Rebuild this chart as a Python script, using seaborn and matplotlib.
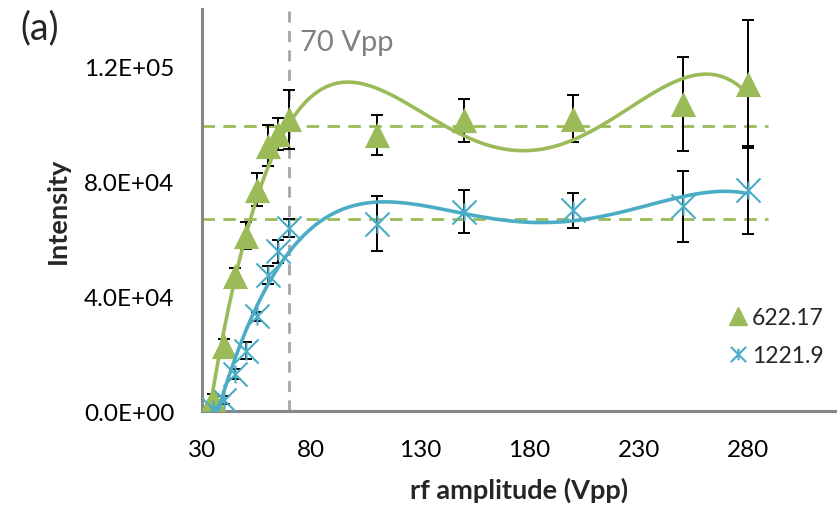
import numpy as np
import matplotlib
matplotlib.use("Agg")
import matplotlib.pyplot as plt
import seaborn as sns
from matplotlib.lines import Line2D
from matplotlib.path import Path
from matplotlib.ticker import FuncFormatter

# данные
rf_vpp = [35, 40, 45, 50, 55, 60, 65, 70, 110, 150, 200, 250, 280]
int_622 = [4200, 22700, 47000, 61100, 77100, 92500, 96500, 101600,
           96200, 101300, 101900, 107000, 114000]
err_622 = [1700, 2300, 3000, 4800, 5700, 7000, 5500, 10200,
           7100, 7500, 8100, 16400, 22300]
int_1221 = [700, 3800, 12900, 21000, 33000, 47300, 55700, 63800,
            65300, 69400, 69900, 71400, 77000]
err_1221 = [500, 1500, 1700, 3000, 1500, 3200, 4000, 3000,
            9600, 7500, 6000, 12400, 15200]
labels = ["622.17", "1221.9"]
plateau_levels = [99200, 67000]
plateau_end = 289
marker_line = 70

green = "#9BBB59"
blue = "#4BACC6"
grey_axis = "#868686"

# маркер "звёздочка" как в Excel: крест + вертикальная черта
star = Path([(-1, -1), (1, 1), (-1, 1), (1, -1), (0, -0.75), (0, 0.75)],
            [Path.MOVETO, Path.LINETO, Path.MOVETO, Path.LINETO, Path.MOVETO, Path.LINETO])

sns.set_style("white")
plt.rcParams["font.family"] = ["Lato", "DejaVu Sans"]

fig = plt.figure(figsize=(8.4, 5.1), dpi=100)
ax = fig.add_axes([0.2405, 0.192, 0.754, 0.788])

# горизонтальные и вертикальная пунктирные линии
ax.hlines(plateau_levels, 30, plateau_end, colors=green, linestyles=(0, (4.5, 3)), lw=2, zorder=1)
ax.axvline(marker_line, color="#A6A6A6", ls=(0, (4, 3)), lw=2, zorder=1)

# планки погрешностей
ax.errorbar(rf_vpp, int_622, yerr=err_622, fmt="none", ecolor="black", elinewidth=1.4,
            capsize=4, capthick=1.4, zorder=2)
ax.errorbar(rf_vpp, int_1221, yerr=err_1221, fmt="none", ecolor="black", elinewidth=1.4,
            capsize=4, capthick=1.4, zorder=2)

# точки и полиномиальные тренды 4-го порядка
sns.regplot(x=rf_vpp, y=int_622, order=4, ci=None, truncate=True, ax=ax, marker="^",
            color=green, scatter_kws={"s": 330, "alpha": 1, "zorder": 3, "linewidths": 0},
            line_kws={"lw": 2.6, "zorder": 4})
sns.regplot(x=rf_vpp, y=int_1221, order=4, ci=None, truncate=True, ax=ax, marker=star,
            color=blue, scatter_kws={"s": 300, "alpha": 1, "zorder": 3, "linewidths": 1.5},
            line_kws={"lw": 2.6, "zorder": 4})

ax.set_xlim(30, 320)
ax.set_ylim(0, 140000)
ax.set_xticks([30, 80, 130, 180, 230, 280])
ax.set_yticks([0, 40000, 80000, 120000])
ax.yaxis.set_major_formatter(FuncFormatter(lambda v, p: f"{v:.1E}"))
ax.tick_params(axis="both", length=0, labelsize=17.5, pad=20, colors="black")

for side in ["top", "right"]:
    ax.spines[side].set_visible(False)
for side in ["left", "bottom"]:
    ax.spines[side].set_color(grey_axis)
    ax.spines[side].set_linewidth(2.2)

ax.set_xlabel("rf amplitude (Vpp)", fontsize=19.5, fontweight="bold", labelpad=12)
ax.set_ylabel("Intensity", fontsize=19.5, fontweight="bold", labelpad=10)

ax.text(75, 128500, "70 Vpp", fontsize=21, color="#808080", va="center", ha="left")
fig.text(0.024, 0.945, "(a)", fontsize=27, ha="left", va="center")

handles = [
    Line2D([], [], ls="none", marker="^", color=green, markersize=13),
    Line2D([], [], ls="none", marker=star, color=blue, markersize=11, markeredgewidth=1.5),
]
ax.legend(handles, labels, loc="center left", bbox_to_anchor=(0.836, 0.185), frameon=False,
          fontsize=16.5, handlelength=0.6, handletextpad=0.3, labelspacing=0.75,
          borderpad=0, borderaxespad=0)

fig.savefig("out.png", dpi=100)
